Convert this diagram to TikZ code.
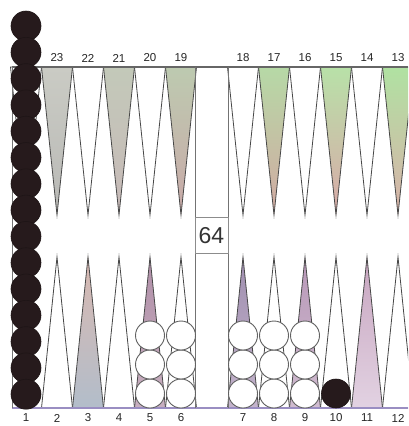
\documentclass[tikz,border=0pt]{standalone}
\usepackage{fontspec}
\setsansfont{Liberation Sans}
\usepackage{tikz}
\usetikzlibrary{positioning}
\colorlet{ink}{black!72}
\colorlet{rimT}{black!60}
\definecolor{rimB}{HTML}{9A8EC2}
\definecolor{stoneB}{HTML}{261A1C}
% --- point shades: top of triangle / bottom of triangle ---
\definecolor{p23t}{HTML}{CACBC4}\definecolor{p23b}{HTML}{B9B9B6}
\definecolor{p21t}{HTML}{C3C9B9}\definecolor{p21b}{HTML}{C7B9B8}
\definecolor{p19t}{HTML}{BDCAB0}\definecolor{p19b}{HTML}{C9A9A8}
\definecolor{p17t}{HTML}{B6D9A6}\definecolor{p17b}{HTML}{D2A9A2}
\definecolor{p15t}{HTML}{B8E1A8}\definecolor{p15b}{HTML}{D9A9A8}
\definecolor{p13t}{HTML}{B0E2A2}\definecolor{p13b}{HTML}{D9B1A9}
\definecolor{p3t}{HTML}{D9B9B1}\definecolor{p3m}{HTML}{BCCAB4}\definecolor{p3b}{HTML}{B2BDCA}
\definecolor{p5t}{HTML}{B08FA8}\definecolor{p5b}{HTML}{C8B0C0}
\definecolor{p7t}{HTML}{A08FB0}\definecolor{p7b}{HTML}{C4B4CC}
\definecolor{p9t}{HTML}{B898B8}\definecolor{p9b}{HTML}{D0BCD0}
\definecolor{p11t}{HTML}{C8A6C0}\definecolor{p11b}{HTML}{E2D2E2}
\tikzset{
  ptlabel/.style ={font=\sffamily\fontsize{11.5}{12}\selectfont, text=black!85,
                   inner sep=0pt},
  ptedge/.style  ={draw=ink, line width=0.8pt},
  rimline/.style ={line width=1.3pt},
  barline/.style ={draw=black!55, line width=1pt},
  stoneW/.style  ={circle, draw=black!62, fill=white, line width=0.9pt,
                   minimum size=29pt, inner sep=0pt},
  stoneBk/.style ={circle, draw=stoneB!80!black, fill=stoneB, line width=0.6pt,
                   minimum size=30pt, inner sep=0pt},
  cubebox/.style ={draw=black!45, fill=white, line width=0.9pt,
                   minimum width=33pt, minimum height=36pt, inner sep=0pt,
                   font=\sffamily\fontsize{23}{23}\selectfont, text=black!80},
}
\begin{document}
\begin{tikzpicture}[x=1pt, y=-1pt]
\useasboundingbox (0,0) rectangle (408,426);
\clip (0,0) rectangle (408,426);
\fill[white] (0,0) rectangle (408,426);

% --- top points: white ones ---
\foreach \px in {367, 305, 243, 150, 88, 26}
  \draw[ptedge, fill=white] (\px-15.5,67) -- (\px,215) -- (\px+15.5,67) -- cycle;

% --- top points: shaded ones ---
\foreach \px/\n in {398/13, 336/15, 274/17, 181/19, 119/21, 57/23}
  \shadedraw[ptedge, top color=p\n t, bottom color=p\n b]
    (\px-15.5,67) -- (\px,215) -- (\px+15.5,67) -- cycle;

% --- bottom points: white ones ---
\foreach \px in {57, 119, 181, 274, 336, 398}
  \draw[ptedge, fill=white] (\px-15.5,408) -- (\px,257) -- (\px+15.5,408) -- cycle;

% --- bottom points: shaded ones ---
\shadedraw[ptedge, top color=p3t, middle color=p3m, bottom color=p3b]
  (72.5,408) -- (88,257) -- (103.5,408) -- cycle;
\foreach \px/\n in {150/5, 243/7, 305/9, 367/11}
  \shadedraw[ptedge, top color=p\n t, bottom color=p\n b]
    (\px-15.5,408) -- (\px,257) -- (\px+15.5,408) -- cycle;

% --- board rim and bar ---
\draw[rimline, draw=rimT] (12,67) -- (408,67);
\draw[rimline, draw=rimB] (12,408) -- (408,408);
\draw[barline] (12,67) -- (12,408);
\draw[barline] (195,67) -- (195,408);
\draw[barline] (228,67) -- (228,408);

% --- doubling cube ---
\node[cubebox] (cube) at (211.5,235.5) {64};

% --- point numbers ---
\foreach \px/\n in {398/13, 367/14, 336/15, 305/16, 274/17, 243/18,
                    181/19, 150/20, 119/21, 88/22, 57/23}
  \node[ptlabel] (t\n) at (\px,58) {\n};
\foreach \px/\n in {26/1, 57/2, 88/3, 119/4, 150/5, 181/6,
                    243/7, 274/8, 305/9, 336/10, 367/11, 398/12}
  \node[ptlabel] (b\n) at (\px,418) {\n};

% --- white checkers ---
\foreach \px/\n in {150/5, 181/6, 243/7, 274/8, 305/9}
  \foreach \k/\py in {1/393.5, 2/364.5, 3/335.5}
    \node[stoneW] (w\n-\k) at (\px,\py) {};

% --- black checkers: tall stack on the left, one on 10 ---
\foreach \k in {0,...,14}
  \node[stoneBk] (s\k) at (26,{26+26.3*\k}) {};
\node[stoneBk, minimum size=29pt] (b10s) at (336,393.5) {};

\end{tikzpicture}
\end{document}
